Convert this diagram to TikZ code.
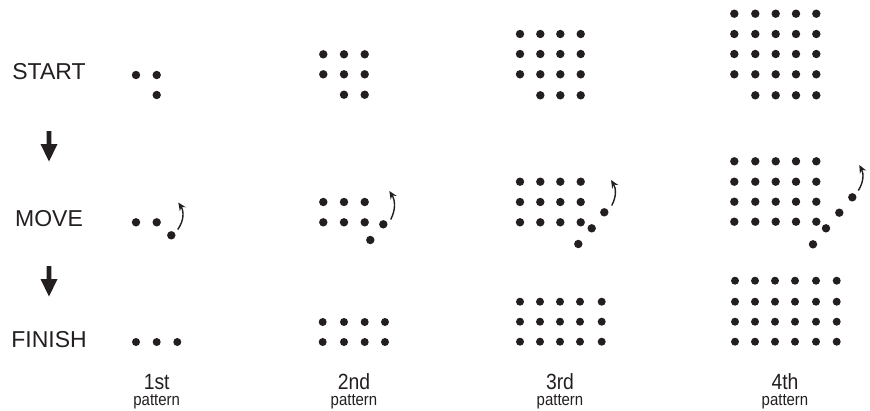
\documentclass[tikz,border=0pt]{standalone}
\usepackage{fontspec}
\setmainfont{Liberation Sans}
\newfontfamily\narrowsans[FakeStretch=0.88]{Liberation Sans}
\usetikzlibrary{arrows.meta}
\definecolor{ink}{RGB}{35,31,32}
\begin{document}
\begin{tikzpicture}[x=1pt,y=-1pt,
  bigdot/.style={fill=ink},
  steplabel/.style={font=\fontsize{23}{26}\selectfont, text=ink, inner sep=0pt},
  numlabel/.style={font=\narrowsans\fontsize{22}{24}\selectfont, text=ink, inner sep=0pt, anchor=base},
  patlabel/.style={font=\narrowsans\fontsize{17}{18}\selectfont, text=ink, inner sep=0pt, anchor=base},
  movearrow/.style={draw=ink, line width=1.4pt, -{Stealth[length=8pt,width=7pt]}},
  bigarrow/.style={fill=ink}]
\useasboundingbox (0,0) rectangle (870,410);

% ---- left labels and arrows
\node[steplabel] (start) at (49,72) {START};
\node[steplabel] (move) at (49,219) {MOVE};
\node[steplabel] (finish) at (49,340) {FINISH};
\fill[bigarrow] (46.6,131) -- (51.4,131) -- (51.4,144) -- (57.5,144) -- (49,161.5) -- (40.5,144) -- (46.6,144) -- cycle;
\fill[bigarrow] (46.6,266) -- (51.4,266) -- (51.4,279) -- (57.5,279) -- (49,296.5) -- (40.5,279) -- (46.6,279) -- cycle;

% ---- START row
% 1st
\foreach \p in {(136,75),(156.7,75),(156.7,95)} \fill[bigdot] \p circle[radius=4.2pt];
% 2nd
\foreach \y in {54.3,74.3} \foreach \x in {323.3,344,364.7} \fill[bigdot] (\x,\y) circle[radius=4.2pt];
\foreach \x in {344,364.7} \fill[bigdot] (\x,94.7) circle[radius=4.2pt];
% 3rd
\foreach \y in {34,54,74.3} \foreach \x in {520,540.3,560.3,580.7} \fill[bigdot] (\x,\y) circle[radius=4.2pt];
\foreach \x in {540.3,560.3,580.7} \fill[bigdot] (\x,95.3) circle[radius=4.2pt];
% 4th
\foreach \y in {13.7,34,54,74.3} \foreach \x in {734.3,755.3,775.7,796,816.3} \fill[bigdot] (\x,\y) circle[radius=4.2pt];
\foreach \x in {755.3,775.7,796,816.3} \fill[bigdot] (\x,95.3) circle[radius=4.2pt];

% ---- MOVE row
% 1st
\foreach \p in {(136,222.3),(156.7,222.3),(171.3,235.3)} \fill[bigdot] \p circle[radius=4.2pt];
\coordinate (t1) at (177.7,229.5); \coordinate (h1) at (178.3,202.5);
\draw[movearrow] (t1) to[bend right=35] (h1);
% 2nd
\foreach \y in {202,222.3} \foreach \x in {323.3,344,364.7} \fill[bigdot] (\x,\y) circle[radius=4.2pt];
\foreach \p in {(383.3,224.3),(370.3,240)} \fill[bigdot] \p circle[radius=4.2pt];
\coordinate (t2) at (390.7,219.5); \coordinate (h2) at (389.3,191);
\draw[movearrow] (t2) to[bend right=30] (h2);
% 3rd
\foreach \y in {181.7,202,222.3} \foreach \x in {520,540.3,560.3,580.7} \fill[bigdot] (\x,\y) circle[radius=4.2pt];
\foreach \p in {(591.7,228.3),(578.3,244),(604.3,212.3)} \fill[bigdot] \p circle[radius=4.2pt];
\coordinate (t3) at (611.7,205.5); \coordinate (h3) at (611,180);
\draw[movearrow] (t3) to[bend right=30] (h3);
% 4th
\foreach \y in {161.3,181.7,201.7,221.7} \foreach \x in {734.3,755.3,775.7,796,816.3} \fill[bigdot] (\x,\y) circle[radius=4.2pt];
\foreach \p in {(826,228.3),(813,244.3),(839.3,212.7),(852.3,197.3)} \fill[bigdot] \p circle[radius=4.2pt];
\coordinate (t4) at (858.3,190.5); \coordinate (h4) at (859.3,165);
\draw[movearrow] (t4) to[bend right=30] (h4);

% ---- FINISH row
% 1st
\foreach \x in {136,156.7,177.3} \fill[bigdot] (\x,342) circle[radius=4pt];
% 2nd
\foreach \y in {322,342} \foreach \x in {322.7,344,364.7,385} \fill[bigdot] (\x,\y) circle[radius=4pt];
% 3rd
\foreach \y in {301.7,321.7,341.7} \foreach \x in {520,540,560,580,601.7} \fill[bigdot] (\x,\y) circle[radius=4pt];
% 4th
\foreach \y in {280.7,301.7,321.7,341.7} \foreach \x in {735,755,775,795,816,836.7} \fill[bigdot] (\x,\y) circle[radius=4pt];

% ---- pattern labels
\node[numlabel] (n1) at (156.7,389) {1st};
\node[patlabel] (p1) at (156.7,405) {pattern};
\node[numlabel] (n2) at (354,389) {2nd};
\node[patlabel] (p2) at (354,405) {pattern};
\node[numlabel] (n3) at (560,389) {3rd};
\node[patlabel] (p3) at (560,405) {pattern};
\node[numlabel] (n4) at (785,389) {4th};
\node[patlabel] (p4) at (785,405) {pattern};
\end{tikzpicture}
\end{document}
